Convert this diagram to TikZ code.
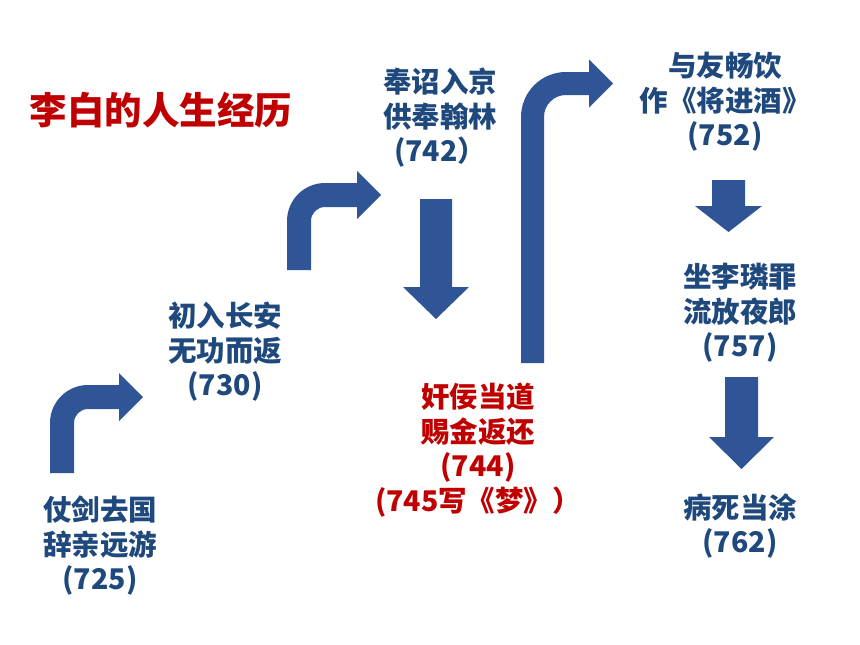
\documentclass[tikz,border=0pt]{standalone}
\usepackage{fontspec}
\newfontfamily\cjk{Noto Sans CJK SC}
\newlength{\du}
\setlength{\du}{1pt}
\definecolor{arrowblue}{RGB}{47,85,151}
\definecolor{stageblue}{RGB}{31,73,125}
\definecolor{stagered}{RGB}{192,0,0}
\tikzset{
	stage/.style={align=center, inner sep=0pt, text=stageblue, font=\cjk\bfseries\fontsize{28.5}{34.5}\selectfont},
	fallstage/.style={stage, text=stagered},
	headline/.style={inner sep=0pt, text=stagered, font=\cjk\bfseries\fontsize{37.5}{44}\selectfont},
}

\begin{document}
\begin{tikzpicture}
	\pgftransformxscale{1.000000}
	\pgftransformyscale{-1.000000}
	\useasboundingbox (0\du,0\du) rectangle (860\du,645\du);
	\pgfsetfillcolor{arrowblue}
	% bent arrow 725 -> 730
	\pgfpathmoveto{\pgfpoint{50.000000\du}{473.000000\du}}
	\pgfpathlineto{\pgfpoint{50.000000\du}{423.000000\du}}
	\pgfpathcurveto{\pgfpoint{50.000000\du}{402.000000\du}}{\pgfpoint{67.000000\du}{385.000000\du}}{\pgfpoint{88.000000\du}{385.000000\du}}
	\pgfpathlineto{\pgfpoint{119.000000\du}{385.000000\du}}
	\pgfpathlineto{\pgfpoint{119.000000\du}{373.000000\du}}
	\pgfpathlineto{\pgfpoint{143.000000\du}{397.000000\du}}
	\pgfpathlineto{\pgfpoint{119.000000\du}{421.000000\du}}
	\pgfpathlineto{\pgfpoint{119.000000\du}{409.000000\du}}
	\pgfpathlineto{\pgfpoint{88.000000\du}{409.000000\du}}
	\pgfpathcurveto{\pgfpoint{80.270000\du}{409.000000\du}}{\pgfpoint{74.000000\du}{415.270000\du}}{\pgfpoint{74.000000\du}{423.000000\du}}
	\pgfpathlineto{\pgfpoint{74.000000\du}{473.000000\du}}
	\pgfpathclose
	\pgfusepath{fill}
	% bent arrow 730 -> 742
	\pgfpathmoveto{\pgfpoint{287.000000\du}{270.000000\du}}
	\pgfpathlineto{\pgfpoint{287.000000\du}{221.000000\du}}
	\pgfpathcurveto{\pgfpoint{287.000000\du}{200.000000\du}}{\pgfpoint{304.000000\du}{183.000000\du}}{\pgfpoint{325.000000\du}{183.000000\du}}
	\pgfpathlineto{\pgfpoint{357.000000\du}{183.000000\du}}
	\pgfpathlineto{\pgfpoint{357.000000\du}{171.000000\du}}
	\pgfpathlineto{\pgfpoint{381.000000\du}{195.000000\du}}
	\pgfpathlineto{\pgfpoint{357.000000\du}{219.000000\du}}
	\pgfpathlineto{\pgfpoint{357.000000\du}{207.000000\du}}
	\pgfpathlineto{\pgfpoint{325.000000\du}{207.000000\du}}
	\pgfpathcurveto{\pgfpoint{317.270000\du}{207.000000\du}}{\pgfpoint{311.000000\du}{213.270000\du}}{\pgfpoint{311.000000\du}{221.000000\du}}
	\pgfpathlineto{\pgfpoint{311.000000\du}{270.000000\du}}
	\pgfpathclose
	\pgfusepath{fill}
	% down arrow 742 -> 744
	\pgfpathmoveto{\pgfpoint{420.000000\du}{199.000000\du}}
	\pgfpathlineto{\pgfpoint{452.000000\du}{199.000000\du}}
	\pgfpathlineto{\pgfpoint{452.000000\du}{287.000000\du}}
	\pgfpathlineto{\pgfpoint{469.000000\du}{287.000000\du}}
	\pgfpathlineto{\pgfpoint{436.000000\du}{319.000000\du}}
	\pgfpathlineto{\pgfpoint{403.000000\du}{287.000000\du}}
	\pgfpathlineto{\pgfpoint{420.000000\du}{287.000000\du}}
	\pgfpathclose
	\pgfusepath{fill}
	% tall bent arrow 744 -> 752
	\pgfpathmoveto{\pgfpoint{521.000000\du}{363.000000\du}}
	\pgfpathlineto{\pgfpoint{521.000000\du}{117.000000\du}}
	\pgfpathcurveto{\pgfpoint{521.000000\du}{92.150000\du}}{\pgfpoint{541.150000\du}{72.000000\du}}{\pgfpoint{566.000000\du}{72.000000\du}}
	\pgfpathlineto{\pgfpoint{589.000000\du}{72.000000\du}}
	\pgfpathlineto{\pgfpoint{589.000000\du}{59.500000\du}}
	\pgfpathlineto{\pgfpoint{613.000000\du}{83.500000\du}}
	\pgfpathlineto{\pgfpoint{589.000000\du}{107.500000\du}}
	\pgfpathlineto{\pgfpoint{589.000000\du}{95.000000\du}}
	\pgfpathlineto{\pgfpoint{566.000000\du}{95.000000\du}}
	\pgfpathcurveto{\pgfpoint{553.850000\du}{95.000000\du}}{\pgfpoint{544.000000\du}{104.850000\du}}{\pgfpoint{544.000000\du}{117.000000\du}}
	\pgfpathlineto{\pgfpoint{544.000000\du}{363.000000\du}}
	\pgfpathclose
	\pgfusepath{fill}
	% down arrow 752 -> 757
	\pgfpathmoveto{\pgfpoint{712.000000\du}{180.000000\du}}
	\pgfpathlineto{\pgfpoint{745.000000\du}{180.000000\du}}
	\pgfpathlineto{\pgfpoint{745.000000\du}{206.000000\du}}
	\pgfpathlineto{\pgfpoint{762.000000\du}{206.000000\du}}
	\pgfpathlineto{\pgfpoint{728.500000\du}{232.000000\du}}
	\pgfpathlineto{\pgfpoint{695.000000\du}{206.000000\du}}
	\pgfpathlineto{\pgfpoint{712.000000\du}{206.000000\du}}
	\pgfpathclose
	\pgfusepath{fill}
	% down arrow 757 -> 762
	\pgfpathmoveto{\pgfpoint{725.000000\du}{377.000000\du}}
	\pgfpathlineto{\pgfpoint{758.000000\du}{377.000000\du}}
	\pgfpathlineto{\pgfpoint{758.000000\du}{437.000000\du}}
	\pgfpathlineto{\pgfpoint{774.000000\du}{437.000000\du}}
	\pgfpathlineto{\pgfpoint{741.500000\du}{469.000000\du}}
	\pgfpathlineto{\pgfpoint{709.000000\du}{437.000000\du}}
	\pgfpathlineto{\pgfpoint{725.000000\du}{437.000000\du}}
	\pgfpathclose
	\pgfusepath{fill}
	% setfont left to latex
	\node[headline] (title) at (161\du,110\du){李白的人生经历};
	\node[stage] (leave) at (100\du,546\du){仗剑去国\\辞亲远游\\(725)};
	\node[stage] (changan) at (225\du,352\du){初入长安\\无功而返\\(730)};
	\node[stage] (hanlin) at (440\du,118\du){奉诏入京\\供奉翰林\\(742）};
	\node[fallstage] (returned) at (478\du,450\du){奸佞当道\\赐金返还\\(744)\\(745写《梦》）};
	\node[stage] (wine) at (725\du,102\du){与友畅饮\\作《将进酒》\\(752)};
	\node[stage] (yelang) at (740\du,313\du){坐李璘罪\\流放夜郎\\(757)};
	\node[stage] (death) at (740\du,526\du){病死当涂\\(762)};
\end{tikzpicture}
\end{document}
